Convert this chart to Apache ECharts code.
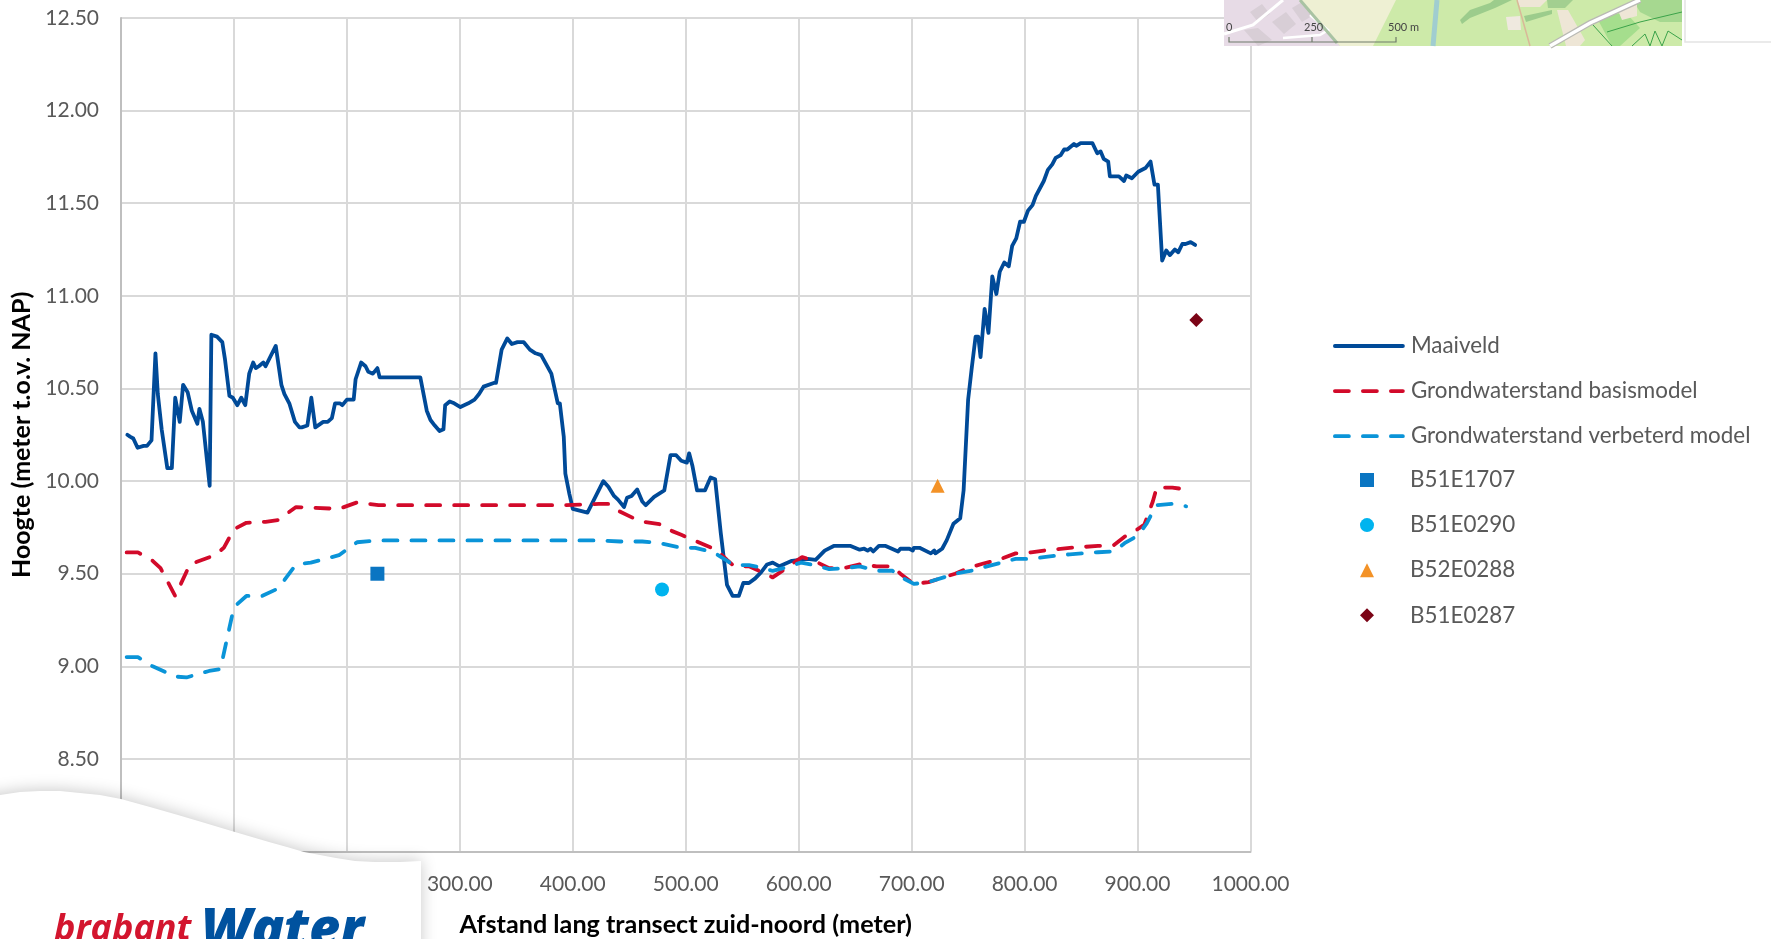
<!DOCTYPE html>
<html><head><meta charset="utf-8">
<style>html,body{margin:0;padding:0;background:#fff;overflow:hidden}#c{width:1771px;height:939px}</style>
<script src="https://cdn.jsdelivr.net/npm/echarts@6/dist/echarts.min.js"></script>
</head><body><div id="c"></div>
<script>
const maaiveld = [[5.6,10.25],[8,10.24],[10.9,10.23],[14.7,10.18],[20,10.19],[23,10.19],[27,10.22],[30.5,10.69],[32.6,10.47],[36,10.28],[41,10.07],[45,10.07],[48,10.45],[52,10.32],[55,10.52],[59,10.48],[62.7,10.38],[67.6,10.31],[69.4,10.39],[72.5,10.32],[78.5,9.975],[80,10.79],[85,10.78],[89.7,10.75],[92,10.66],[96,10.46],[99,10.45],[103,10.41],[106.5,10.45],[110,10.41],[113.5,10.58],[117,10.64],[119.4,10.61],[122,10.62],[126,10.64],[128,10.62],[137,10.73],[138.7,10.73],[142,10.52],[144.7,10.47],[149,10.42],[154,10.32],[158,10.29],[160,10.29],[165,10.3],[168.5,10.45],[172,10.29],[179,10.32],[183,10.32],[186.7,10.34],[189.5,10.42],[193.7,10.42],[196,10.41],[200,10.44],[206,10.44],[207.7,10.55],[212.6,10.64],[216.5,10.62],[219,10.59],[223,10.58],[227,10.61],[229,10.56],[265,10.56],[266.5,10.55],[270.7,10.38],[274,10.33],[277.8,10.3],[282,10.27],[285.5,10.28],[287,10.41],[291,10.43],[295,10.42],[300.5,10.4],[307.5,10.42],[313,10.44],[317,10.47],[321,10.51],[330,10.53],[332,10.53],[337,10.71],[342,10.77],[346,10.74],[351,10.75],[356.6,10.75],[362,10.71],[367,10.69],[372,10.68],[381,10.58],[386.7,10.42],[388.5,10.42],[392,10.24],[393.4,10.04],[397,9.93],[400,9.85],[413,9.83],[427,10.0],[431.5,9.97],[436.5,9.92],[440,9.9],[445.4,9.86],[448,9.91],[452,9.92],[457,9.955],[461.5,9.89],[464.6,9.87],[472,9.915],[481,9.95],[486.5,10.14],[491.5,10.14],[496,10.11],[501,10.1],[503,10.15],[506,10.08],[510,9.95],[517,9.95],[522,10.02],[526,10.01],[531,9.72],[536.5,9.44],[541.5,9.38],[547,9.38],[551,9.45],[556,9.45],[561.5,9.475],[567,9.51],[572,9.55],[577,9.56],[583,9.54],[594,9.57],[608,9.58],[615,9.575],[623,9.625],[631,9.65],[646,9.65],[654,9.63],[658,9.635],[661,9.625],[663.5,9.635],[666,9.62],[671,9.65],[677,9.65],[688,9.62],[690,9.635],[698,9.635],[701,9.625],[702,9.64],[707,9.64],[717,9.61],[720,9.625],[721,9.61],[727,9.635],[731,9.68],[737,9.77],[743,9.8],[746,9.95],[750,10.44],[753,10.6],[756.6,10.78],[759,10.78],[761,10.67],[764.6,10.93],[768,10.8],[771.4,11.105],[775,11.01],[778,11.13],[782,11.18],[786,11.16],[789,11.27],[792.6,11.31],[796,11.4],[799.4,11.4],[803,11.46],[807,11.49],[810,11.54],[817,11.62],[820.6,11.68],[824.5,11.71],[827.5,11.745],[832,11.76],[835,11.79],[837.8,11.79],[843.7,11.82],[845.7,11.81],[849.6,11.825],[860,11.825],[864.3,11.77],[867.3,11.78],[870,11.74],[874,11.725],[875.5,11.645],[883.5,11.645],[888,11.62],[890,11.65],[895,11.635],[900.6,11.67],[907,11.69],[911.5,11.725],[915,11.6],[918,11.6],[921.8,11.19],[925.4,11.245],[928.6,11.22],[933,11.25],[936,11.235],[939.6,11.28],[942.5,11.28],[947,11.29],[951,11.275]];
const basismodel = [[5,9.615],[15,9.615],[28,9.57],[35,9.53],[48,9.38],[61,9.55],[83,9.6],[91,9.64],[100,9.74],[111,9.775],[128,9.78],[139,9.79],[155,9.86],[193,9.85],[209,9.885],[228,9.87],[393,9.87],[423,9.877],[431.5,9.877],[440,9.84],[453.8,9.8],[463.5,9.78],[479,9.765],[488,9.73],[496,9.71],[517,9.655],[527,9.63],[536.5,9.575],[543,9.54],[556,9.54],[567,9.51],[577,9.48],[586.5,9.52],[598,9.57],[603,9.59],[613.5,9.57],[627,9.53],[640,9.53],[654,9.55],[669,9.54],[683,9.54],[690,9.5],[702,9.445],[715,9.455],[738.5,9.5],[752,9.535],[763.5,9.555],[777,9.575],[792,9.61],[805.8,9.615],[817,9.625],[840,9.64],[865,9.65],[879,9.655],[888.5,9.7],[900,9.74],[906,9.765],[913.5,9.89],[917,9.965],[930.8,9.965],[943,9.955]];
const verbeterd = [[5,9.05],[15,9.05],[28,9.0],[48,8.945],[58,8.94],[78,8.975],[88,8.985],[100,9.32],[111,9.38],[125,9.38],[139,9.42],[155,9.55],[168,9.56],[193,9.6],[209,9.67],[228,9.68],[393,9.68],[423,9.68],[442,9.674],[461.5,9.674],[477,9.665],[496,9.64],[508.5,9.64],[525,9.614],[534.6,9.578],[542,9.547],[556,9.547],[569,9.53],[577,9.515],[586.5,9.53],[602,9.56],[613.5,9.547],[627,9.525],[640,9.53],[654,9.54],[669,9.516],[683,9.516],[690,9.484],[702,9.445],[715,9.455],[738.5,9.5],[752,9.515],[763.5,9.535],[777,9.556],[792,9.58],[805.8,9.58],[817,9.59],[840,9.605],[865,9.616],[879,9.62],[888.5,9.665],[900,9.705],[908,9.77],[916.5,9.87],[930.8,9.877],[943,9.864]];
const b51e1707 = [[227,9.5]];
const b51e0290 = [[479,9.415]];
const b52e0288 = [[723,9.975]];
const b51e0287 = [[952,10.87]];
const lineNames = ['Maaiveld','Grondwaterstand basismodel','Grondwaterstand verbeterd model'];
const pointNames = ['B51E1707','B51E0290','B52E0288','B51E0287'];

const FONT = 'Lato';
const chart = echarts.init(document.getElementById('c'), null, {renderer:'canvas'});
const lineSeries = (name,data,color,dash,z) => ({name,type:'line',data,showSymbol:false,symbol:'none',smooth:false,z,
  lineStyle:{color,width:3.8,type:dash?[14,14]:'solid',cap:'round',join:'round'},itemStyle:{color}});
const pointSeries = (name,data,color,symbol,size) => ({name,type:'scatter',data,symbol,symbolSize:size,z:6,itemStyle:{color,opacity:1}});

const Z = 50;
const poly = (points,fill) => ({type:'polygon',z:Z,shape:{points},style:{fill}});
const pline = (points,stroke,w) => ({type:'polyline',z:Z+1,shape:{points},style:{stroke,lineWidth:w,fill:null}});
const txt = (x,y,text,size,fill,extra) => ({type:'text',z:Z+2,x,y,style:Object.assign({text,fontSize:size,fill,fontFamily:FONT},extra||{})});
const legendText = pad => ({color:'#595959',fontSize:22.4,fontFamily:FONT,padding:[0,0,0,pad]});

chart.setOption({
  animation:false,backgroundColor:'#fff',
  textStyle:{fontFamily:FONT},
  grid:{left:121,top:18,width:1129.5,height:833.6,containLabel:false,outerBoundsMode:'none'},
  xAxis:{type:'value',min:0,max:1000,interval:100,
    axisLine:{onZero:false,lineStyle:{color:'#bfbfbf',width:2}},axisTick:{show:false},
    splitLine:{show:true,lineStyle:{color:'#d9d9d9',width:2}},
    axisLabel:{color:'#595959',fontSize:21,margin:22,fontFamily:FONT,formatter:v=>v.toFixed(2),hideOverlap:false,showMinLabel:true,showMaxLabel:true},
    name:'Afstand lang transect zuid-noord (meter)',nameLocation:'middle',nameGap:61,
    nameTextStyle:{color:'#000',fontWeight:'bold',fontSize:25.2,fontFamily:FONT}},
  yAxis:{type:'value',min:8,max:12.5,interval:0.5,
    axisLine:{show:true,onZero:false,lineStyle:{color:'#bfbfbf',width:2}},axisTick:{show:false},
    splitLine:{show:true,lineStyle:{color:'#d9d9d9',width:2}},
    axisLabel:{color:'#595959',fontSize:21,margin:22,padding:[3,0,0,0],fontFamily:FONT,formatter:v=>v.toFixed(2)},
    name:'Hoogte (meter t.o.v. NAP)',nameLocation:'middle',nameGap:86,
    nameTextStyle:{color:'#000',fontWeight:'bold',fontSize:25,fontFamily:FONT}},
  legend:[
    {orient:'vertical',left:1333,top:335,padding:0,itemWidth:68,itemHeight:14,itemGap:23.1,
     textStyle:legendText(3),itemStyle:{opacity:0},lineStyle:{width:3.8,cap:'round'},data:lineNames,selectedMode:false},
    {orient:'vertical',left:1360,top:469,padding:0,itemWidth:14,itemHeight:14,itemGap:23.1,
     textStyle:legendText(31),data:pointNames,selectedMode:false}
  ],
  series:[
    lineSeries(lineNames[0],maaiveld,'#004a98',false,3),
    lineSeries(lineNames[1],basismodel,'#d20a2a',true,4),
    lineSeries(lineNames[2],verbeterd,'#0a94d8',true,5),
    pointSeries(pointNames[0],b51e1707,'#0a75c2','rect',14),
    pointSeries(pointNames[1],b51e0290,'#00b4ef','circle',14),
    pointSeries(pointNames[2],b52e0288,'#f39227','triangle',14),
    pointSeries(pointNames[3],b51e0287,'#7b0416','diamond',14)
  ],
  graphic:{elements:[
    {type:'polygon',z:Z,shape:{points:[[-40,800],[0,795],[20,792],[40,791],[60,791],[80,793],[100,795],[121,799],[150,807],[178,815],[205,823],[235,832],[252,837],[269,842],[287,847],[304,852],[320,855],[336,858],[355,861],[375,862],[400,862],[421,861],[421,980],[-40,980]]},
      style:{fill:'#fff',shadowBlur:16,shadowColor:'rgba(0,0,0,0.22)',shadowOffsetX:0,shadowOffsetY:-1}},
    txt(54,912,'brabant',36,'#d3152e',{fontFamily:'Open Sans',fontWeight:'bold',fontStyle:'italic',verticalAlign:'top'}),
    txt(201,905,'Water',54,'#00529f',{fontFamily:'Open Sans',fontWeight:800,fontStyle:'italic',verticalAlign:'top'}),
    {type:'rect',z:Z,shape:{x:1224,y:0,width:458,height:46},style:{fill:'#cdeaa9'}},
    poly([[1224,0],[1302,0],[1340,46],[1224,46]],'#e7dbe6'),
    poly([[1302,0],[1396,0],[1373,46],[1340,46]],'#eef0d3'),
    poly([[1250,12],[1262,4],[1270,14],[1258,22]],'#d8ced6'),
    poly([[1272,22],[1286,12],[1296,24],[1284,34]],'#d8ced6'),
    poly([[1292,8],[1302,2],[1312,16],[1302,22]],'#d8ced6'),
    poly([[1244,30],[1258,28],[1272,40],[1258,46]],'#d8ced6'),
    pline([[1437,0],[1433,46]],'#a0cdd0',5),
    poly([[1460,20],[1470,10],[1490,3],[1494,0],[1512,0],[1495,8],[1470,18],[1462,24]],'#9ccc8c'),
    poly([[1517,0],[1547,0],[1540,7],[1520,7]],'#eee6d6'),
    poly([[1506,17],[1520,16],[1521,30],[1508,30]],'#efe9df'),
    poly([[1557,10],[1568,10],[1585,40],[1580,46],[1566,46]],'#eee6d6'),
    poly([[1524,16],[1552,10],[1552,14],[1526,22]],'#9ccc8c'),
    poly([[1547,0],[1573,0],[1565,8],[1548,8]],'#a2cf90'),
    poly([[1633,0],[1682,0],[1682,22],[1660,22],[1640,12]],'#a6d890'),
    poly([[1597,18],[1625,12],[1640,28],[1620,46],[1612,46]],'#a5de8d'),
    poly([[1617,8],[1637,4],[1637,16],[1622,20]],'#eee6d6'),
    pline([[1224,34],[1253,25],[1283,0]],'#fff',3),
    pline([[1283,38],[1320,35],[1328,30],[1310,15]],'#fff',2.5),
    pline([[1300,0],[1337,43]],'#a9c3a3',3),
    pline([[1517,0],[1530,46]],'#d9b898',1.5),
    pline([[1550,46],[1590,23],[1640,0]],'#b9b9b4',6),
    pline([[1550,46],[1590,23],[1640,0]],'#fff',3.5),
    pline([[1593,25],[1612,46]],'#3ba34a',1),
    pline([[1607,32],[1640,22],[1682,12]],'#3ba34a',1),
    pline([[1632,46],[1645,34],[1650,46],[1655,31],[1662,46],[1668,31],[1682,40]],'#3ba34a',1),
    pline([[1229,37],[1229,42],[1396,42],[1396,37]],'#6f7a6a',1.2),
    pline([[1312,37],[1312,42]],'#6f7a6a',1.2),
    txt(1226,22,'0',11,'#444'),
    txt(1304,22,'250',11,'#444'),
    txt(1388,22,'500 m',11,'#444'),
    pline([[1685,0],[1685,42],[1771,42]],'#e4e4e4',1.5)
  ]}
});
</script></body></html>
